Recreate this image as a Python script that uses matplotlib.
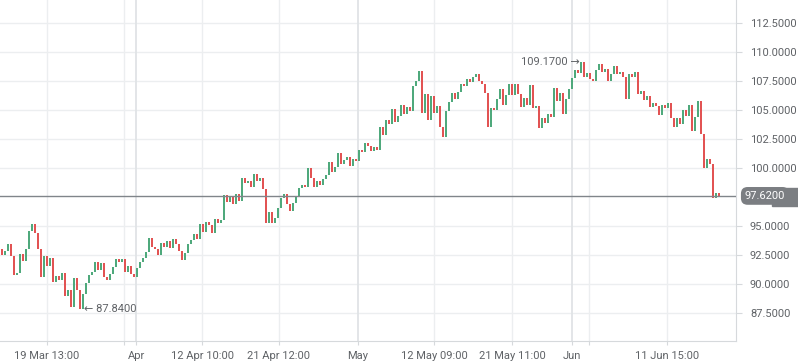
import matplotlib
matplotlib.use("Agg")
import numpy as np
import matplotlib.pyplot as plt

plt.rcParams['font.family'] = ['Roboto', 'DejaVu Sans']

# data: close of each candle, open = previous close
first_open = 93.0
mar_close = [92.5, 92.9, 93.5, 92.4, 90.8, 91.0, 92.6, 92.0, 93.0, 94.6,
             95.2, 94.4, 93.0, 90.6, 92.4, 91.6, 92.3, 90.2, 90.7, 90.4,
             91.0, 89.0, 89.5, 88.0, 90.5, 89.5, 87.84, 89.2, 90.1, 90.8,
             91.1, 91.9, 91.2, 91.8, 90.6, 90.4, 90.9, 91.5, 92.2, 91.9,
             92.2, 91.1, 91.6, 90.9, 90.6]
apr_close = [91.4, 91.9, 92.3, 92.8, 94.0,
             93.2, 93.0, 92.5, 93.6, 93.2, 93.7, 93.1, 93.9, 93.5, 92.9,
             92.1, 92.7, 93.5, 93.8, 94.3, 93.9, 95.2, 94.5, 95.4, 95.1,
             94.4, 95.6, 95.3, 95.5, 97.7, 97.1, 97.5, 96.9, 97.8, 97.2,
             99.2, 98.7, 98.9, 98.4, 99.5, 98.9, 99.2, 98.2, 95.3, 96.2,
             95.3, 95.7, 96.6, 97.4, 97.8, 96.9, 96.3, 97.0, 97.5, 98.3,
             98.6, 98.4, 100.0, 99.2, 98.4, 98.9, 98.6, 99.1, 99.4, 100.5,
             99.7, 100.1, 101.3, 100.4, 100.7, 101.0, 100.2, 100.8, 100.6]
may_close = [101.6,
             101.4, 102.2, 101.9, 101.5, 101.8, 101.6, 103.6, 102.9, 104.2, 103.8,
             105.1, 104.0, 104.5, 105.5, 104.7, 105.3, 104.9, 107.1, 107.5, 108.4,
             104.8, 106.4, 104.2, 106.2, 104.8, 105.4, 103.6, 102.7, 104.9, 105.7,
             106.5, 106.0, 106.6, 107.3, 107.1, 107.7, 107.4, 107.9, 108.1, 107.5,
             107.3, 106.5, 103.6, 105.2, 105.0, 106.0, 106.8, 105.5, 106.3, 107.3,
             106.3, 107.3, 106.4, 105.3, 106.1, 105.5, 107.2, 105.2, 105.4, 103.5,
             104.3, 103.9, 104.7, 104.4, 106.9, 105.8, 106.5, 104.7, 106.0, 106.8]
jun_close = [107.8, 108.5, 108.2, 109.17, 107.9, 108.2, 107.7, 107.5, 108.5, 109.0,
             108.3, 108.6, 107.5, 108.1, 108.8, 108.1, 108.3, 107.9, 106.0, 108.1,
             107.9, 108.3, 106.4, 106.7, 105.9, 106.2, 105.3, 105.6, 105.4, 104.6,
             105.5, 105.2, 105.6, 104.3, 103.6, 104.3, 103.8, 105.0, 104.5, 105.5,
             103.2, 104.4, 105.8, 103.0, 100.0, 100.8, 100.4, 97.4, 97.9, 97.62]

last_price = 97.62
tick_idx = [15.0, 40.7, 44.7, 66.7, 92.3, 118.7, 144.0, 170.0, 190.0, 195.7, 221.7]
tick_lab = ['19 Mar 13:00', '', 'Apr', '12 Apr 10:00', '21 Apr 12:00', 'May',
            '12 May 09:00', '21 May 11:00', 'Jun', '', '11 Jun 15:00']
month_ticks = ['Apr', 'May', 'Jun']
y_ticks = [87.5, 90.0, 92.5, 95.0, 100.0, 102.5, 105.0, 107.5, 110.0, 112.5]

closes = np.array(mar_close + apr_close + may_close + jun_close)
opens = np.concatenate([[first_open], closes[:-1]])
idx = np.arange(len(closes))

green = '#4fa97c'
red = '#e25353'
grid_c = '#eceef0'
axis_c = '#d6d9dc'
text_c = '#5f6266'
tag_c = '#7b7e82'

fig = plt.figure(figsize=(7.98, 3.63), dpi=100)
ax = fig.add_axes([0, 22 / 363, 736 / 798, 341 / 363])

# grid
for t in y_ticks:
    ax.axhline(t, color=grid_c, lw=1, zorder=0)
for t, lab in zip(tick_idx, tick_lab):
    if lab in month_ticks:
        ax.axvline(t, color='#e0e3e6', lw=1.3, zorder=0)
    else:
        ax.axvline(t, color=grid_c, lw=1, zorder=0)

# candles
cols = [green if c >= o else red for o, c in zip(opens, closes)]
hgt = closes - opens
hgt = np.where(np.abs(hgt) < 0.08, np.sign(hgt + 1e-9) * 0.08, hgt)
ax.bar(idx, hgt, bottom=opens, width=0.4, color=cols, linewidth=0, zorder=2)

# last price line + tag
ax.axhline(last_price, color='#80858a', lw=1, zorder=3)
ax.text(1.012, last_price, '%.4f' % last_price,
        transform=ax.get_yaxis_transform(),
        ha='left', va='center', color='white', fontsize=8, zorder=7, clip_on=False,
        bbox=dict(boxstyle='round,pad=0.35,rounding_size=0.6', fc=tag_c, ec='none'))
# square right end of the tag, running off the edge
ax.add_patch(plt.Rectangle((772 / 798, 157 / 363), 30 / 798, 18 / 363,
                           transform=fig.transFigure, color=tag_c,
                           clip_on=False, zorder=6))

# high / low labels
ih = int(np.argmax(closes))
il = int(np.argmin(closes))
ax.text(ih - 0.3, closes[ih], '%.4f \u2192' % closes[ih], ha='right', va='center',
        fontsize=8, color=text_c, zorder=4)
ax.text(il + 1.3, closes[il], '\u2190 %.4f' % closes[il], ha='left', va='center',
        fontsize=8, color=text_c, zorder=4)

ax.set_xlim(-0.67, 244.67)
ax.set_ylim(85.11, 114.51)
ax.set_xticks(tick_idx)
ax.set_xticklabels(tick_lab)
ax.set_yticks(y_ticks)
ax.set_yticklabels(['%.4f' % v for v in y_ticks])
ax.yaxis.tick_right()
ax.tick_params(axis='y', length=4, color=axis_c, labelsize=8, labelcolor=text_c, pad=6)
ax.tick_params(axis='x', length=3, color=axis_c, labelsize=8, labelcolor=text_c, pad=4)
for s in ['top', 'left']:
    ax.spines[s].set_visible(False)
ax.spines['right'].set_color(axis_c)
ax.spines['bottom'].set_color(axis_c)

fig.savefig('out.png', dpi=100)
